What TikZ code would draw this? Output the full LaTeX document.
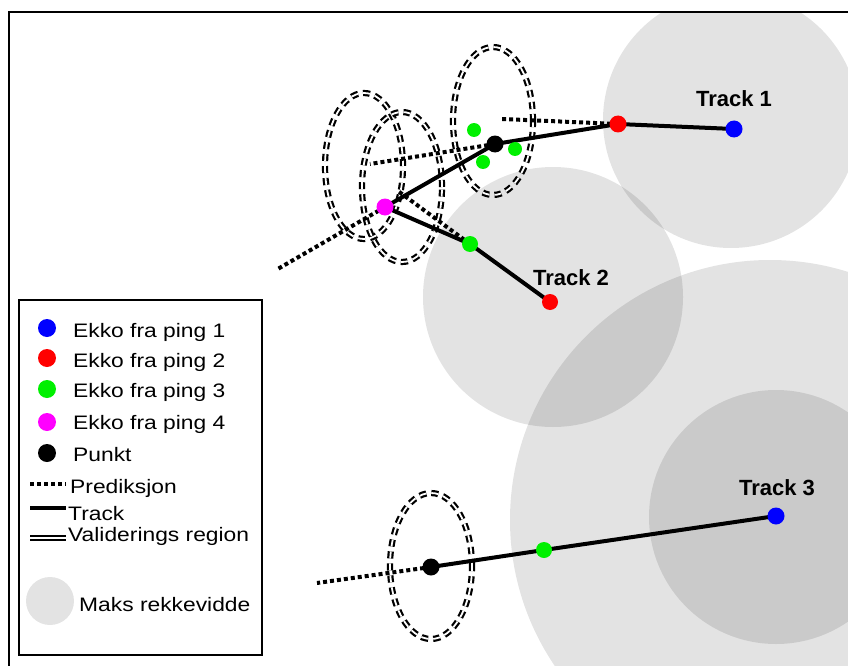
\documentclass[tikz,border=0pt]{standalone}
\usepackage{fontspec}
\setmainfont{Liberation Sans}
\usepackage{graphicx}
\definecolor{cblue}{RGB}{0,0,255}
\definecolor{cred}{RGB}{255,0,0}
\definecolor{cgreen}{RGB}{0,240,0}
\definecolor{cmag}{RGB}{255,0,255}
\begin{document}
\begin{tikzpicture}[x=1pt,y=-1pt,
  zone/.style={fill=black,fill opacity=0.11,draw=none},
  dot/.style={circle,inner sep=0pt,minimum size=16pt,draw=none},
  ldot/.style={circle,inner sep=0pt,minimum size=18pt,draw=none},
  trackline/.style={line width=4pt},
  predline/.style={line width=4pt,dash pattern=on 4pt off 3pt},
  valreg/.style={draw=black,line width=2.2pt,double=white,double distance=1.8pt,dash pattern=on 7pt off 5pt},
  tracklabel/.style={font=\fontsize{22}{24}\selectfont\bfseries,inner sep=0pt},
  legtext/.style={anchor=base west,inner sep=0pt,font=\fontsize{19.5}{22}\selectfont},
  frameline/.style={line width=2pt},
]
\useasboundingbox (0,0) rectangle (848,666);

% maximum range zones
\begin{scope}
  \clip (9,12) rectangle (848,666);
  \fill[zone] (731,120) circle [radius=128pt];
  \fill[zone] (553,297) circle [radius=130pt];
  \fill[zone] (770,520) circle [radius=260pt];
  \fill[zone] (776,517) circle [radius=127pt];
\end{scope}

% frame
\coordinate (fA) at (9,666);
\coordinate (fB) at (9,12);
\coordinate (fC) at (848,12);
\draw[frameline] (fA) -- (fB) -- (fC);

% validation regions
\draw[valreg] (493,121) ellipse [x radius=40pt, y radius=74pt];
\draw[valreg] (364,166) ellipse [x radius=39pt, y radius=73pt];
\draw[valreg] (402,187) ellipse [x radius=40pt, y radius=75pt];
\draw[valreg] (431,566) ellipse [x radius=41pt, y radius=73pt];

% points
\node[dot] (t1a) at (734,129) {};
\node[dot] (t1b) at (618,124) {};
\node[dot] (t1c) at (495,144) {};
\node[dot] (t1d) at (385,207) {};
\node[dot] (t2a) at (550,302) {};
\node[dot] (t2b) at (470,244) {};
\node[dot] (t3a) at (776,516) {};
\node[dot] (t3b) at (544,550) {};
\node[dot] (t3c) at (431,567) {};
\node[dot] (g1) at (474,130) {};
\node[dot] (g2) at (483,162) {};
\node[dot] (g3) at (515,149) {};

% prediction end points
\coordinate (p1) at (502,119);
\coordinate (p2) at (370,164);
\coordinate (p3) at (276,270);
\coordinate (p4) at (398,191);
\coordinate (p5) at (317,583);

\draw[predline] (t1b.center) -- (p1);
\draw[predline] (t1c.center) -- (p2);
\draw[predline] (t1d.center) -- (p3);
\draw[predline] (t2b.center) -- (p4);
\draw[predline] (t3c.center) -- (p5);

\draw[trackline] (t1a.center) -- (t1b.center) -- (t1c.center) -- (t1d.center);
\draw[trackline] (t2a.center) -- (t2b.center) -- (t1d.center);
\draw[trackline] (t3a.center) -- (t3b.center) -- (t3c.center);

% dots on top
\foreach \n/\c/\r in {t1a/cblue/8.5,t1b/cred/8.5,t1c/black/8.5,t1d/cmag/8.5,t2a/cred/8,t2b/cgreen/8,t3a/cblue/8.5,t3b/cgreen/8,t3c/black/8.5,g1/cgreen/7,g2/cgreen/7,g3/cgreen/7}
  \fill[\c] (\n.center) circle [radius=\r pt];

% track labels
\node[tracklabel] (lab1) at (734,99) {Track 1};
\node[tracklabel] (lab2) at (571,278) {Track 2};
\node[tracklabel] (lab3) at (777,488) {Track 3};

% legend
\node[draw,line width=1.8pt,fill=white,minimum width=243pt,minimum height=355pt,inner sep=0pt] (legend) at (140.5,477.5) {};
\node[ldot,fill=cblue]  (ld1) at (47,328) {};
\node[ldot,fill=cred]   (ld2) at (47,358) {};
\node[ldot,fill=cgreen] (ld3) at (47,389) {};
\node[ldot,fill=cmag]   (ld4) at (47,422) {};
\node[ldot,fill=black]  (ld5) at (47,453) {};
\node[legtext] (lt1) at (73,337) {\scalebox{1.17}[1]{Ekko fra ping 1}};
\node[legtext] (lt2) at (73,367) {\scalebox{1.17}[1]{Ekko fra ping 2}};
\node[legtext] (lt3) at (73,397) {\scalebox{1.17}[1]{Ekko fra ping 3}};
\node[legtext] (lt4) at (73,429) {\scalebox{1.17}[1]{Ekko fra ping 4}};
\node[legtext] (lt5) at (73,461) {\scalebox{1.17}[1]{Punkt}};
\coordinate (lp1) at (30,484);
\coordinate (lp2) at (66,484);
\draw[predline] (lp1) -- (lp2);
\node[legtext] (lt6) at (70,493) {\scalebox{1.17}[1]{Prediksjon}};
\coordinate (lk1) at (30,508);
\coordinate (lk2) at (66,508);
\draw[trackline] (lk1) -- (lk2);
\node[legtext] (lt7) at (68,520) {\scalebox{1.17}[1]{Track}};
\coordinate (lv1) at (30,538);
\coordinate (lv2) at (66,538);
\draw[line width=2pt,double=white,double distance=2pt] (lv1) -- (lv2);
\node[legtext] (lt8) at (68,541) {\scalebox{1.17}[1]{Validerings region}};
\node[circle,zone,minimum size=48pt,inner sep=0pt] (lz) at (50,601) {};
\node[legtext] (lt9) at (79,611) {\scalebox{1.17}[1]{Maks rekkevidde}};
\end{tikzpicture}
\end{document}
